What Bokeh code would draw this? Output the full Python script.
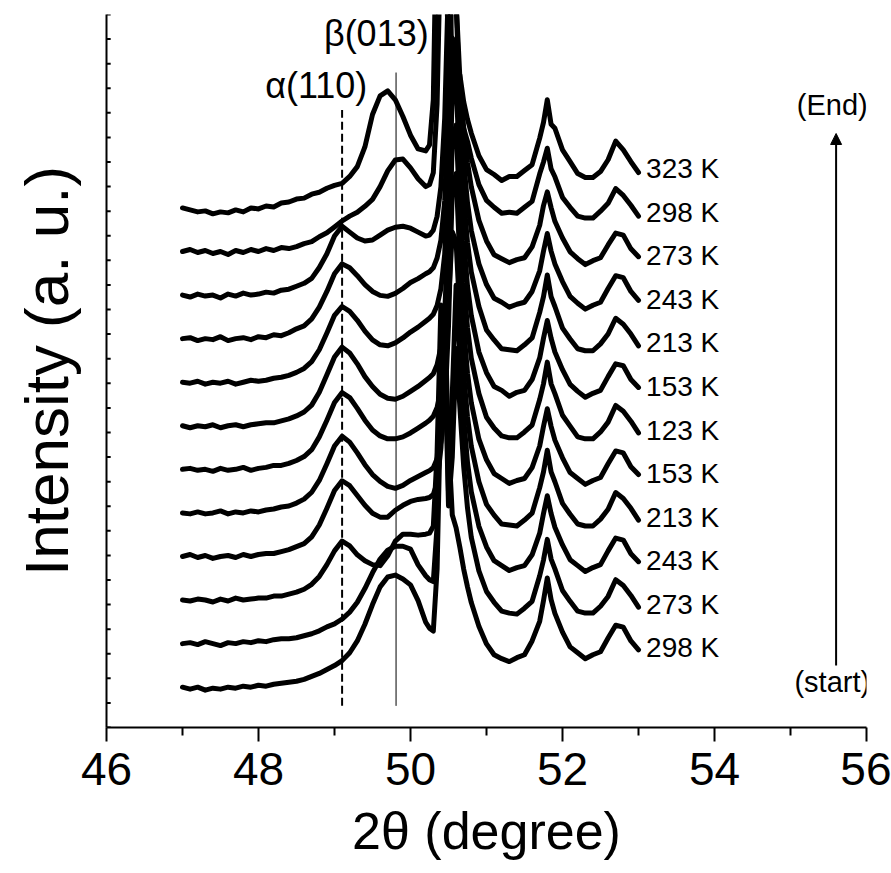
from bokeh.plotting import figure
from bokeh.models import Range1d, FixedTicker, Arrow, NormalHead, Label
from bokeh.embed import file_html
from bokeh.resources import INLINE
from bokeh.core.properties import value

# 2-theta sampling positions (degree), shared by every scan
two_theta = [47.0, 47.1, 47.2, 47.3, 47.4, 47.5, 47.6, 47.7, 47.8, 47.9,
             48.0, 48.1, 48.2, 48.3, 48.4, 48.5, 48.6, 48.7, 48.8, 48.9,
             49.0, 49.1, 49.2, 49.3, 49.4, 49.5, 49.6, 49.7, 49.8, 49.9,
             50.0, 50.1, 50.2, 50.25, 50.3, 50.35, 50.4, 50.45, 50.5, 50.55,
             50.6, 50.65, 50.7, 50.75, 50.8, 50.9, 51.0, 51.1, 51.2, 51.3,
             51.4, 51.5, 51.6, 51.7, 51.75, 51.8, 51.85, 51.9, 52.0, 52.1,
             52.2, 52.3, 52.4, 52.5, 52.6, 52.7, 52.8, 52.9, 53.0]

# Intensities (a.u., background-referenced) in measurement order:
# start at 298 K, cool down to 123 K, heat up to 323 K
s01_298K = [0, -2, 0, -3, -1, -2, 0, -1, 1, 0,
            2, 1, 3, 4, 5, 6, 8, 11, 14, 18,
            22, 27, 35, 47, 64, 84, 102, 112, 114, 110,
            104, 88, 66, 60, 57, 120, 300, 380, 250, 175,
            162, 142, 120, 102, 86, 62, 44, 33, 29, 26,
            30, 33, 47, 67, 88, 111, 89, 75, 56, 41,
            35, 29, 33, 36, 50, 63, 61, 47, 38]
s02_273K = [0, 1, -1, 2, 0, -2, 1, 0, 2, 1,
            3, 2, 4, 5, 5, 6, 8, 10, 13, 17,
            20, 25, 32, 42, 56, 72, 86, 95, 99, 99,
            96, 80, 69, 65, 63, 120, 280, 300, 140, 190,
            300, 240, 180, 138, 108, 74, 53, 42, 33, 31,
            30, 36, 43, 69, 85, 106, 86, 76, 54, 43,
            33, 31, 31, 38, 48, 65, 59, 49, 37]
s03_243K = [0, -1, 1, 0, -2, 1, -1, 2, 0, 1,
            2, 2, 4, 4, 6, 8, 11, 16, 24, 36,
            50, 60, 55, 46, 40, 36, 35, 45, 60, 67,
            67, 66, 67, 68, 75, 150, 300, 280, 110, 210,
            320, 250, 185, 140, 110, 75, 54, 40, 35, 30,
            33, 35, 46, 68, 88, 106, 88, 74, 56, 41,
            35, 29, 33, 36, 50, 63, 61, 47, 39]
s04_213K = [0, 2, -1, 1, -2, 0, 1, -1, 2, 0,
            2, 3, 3, 5, 7, 10, 13, 20, 32, 49,
            67, 77, 72, 62, 52, 44, 40, 40, 47, 52,
            56, 58, 59, 60, 63, 75, 110, 180, 260, 330,
            320, 245, 185, 142, 112, 76, 53, 42, 33, 32,
            31, 37, 44, 70, 86, 108, 86, 76, 54, 43,
            33, 31, 31, 38, 48, 65, 59, 49, 37]
s05_153K = [0, -1, 1, -1, 0, 2, -1, 1, 0, 2,
            1, 3, 4, 6, 7, 10, 14, 21, 33, 50,
            68, 78, 72, 61, 49, 39, 32, 27, 25, 28,
            33, 37, 41, 43, 46, 55, 72, 105, 190, 330,
            345, 255, 188, 142, 112, 75, 54, 40, 35, 30,
            33, 35, 46, 68, 88, 106, 88, 74, 56, 41,
            35, 29, 33, 36, 50, 63, 61, 47, 39]
s06_123K = [0, 1, -1, 0, -2, 1, -1, 0, 2, -1,
            1, 2, 4, 4, 6, 9, 13, 20, 33, 50,
            68, 78, 73, 62, 50, 40, 34, 31, 31, 33,
            37, 42, 47, 50, 54, 63, 80, 112, 195, 335,
            350, 258, 190, 144, 113, 77, 53, 42, 34, 32,
            32, 38, 45, 71, 87, 109, 87, 77, 55, 44,
            33, 31, 31, 38, 48, 65, 59, 49, 37]
s07_153K = [0, -2, 0, -1, 1, -2, 0, 1, -1, 1,
            2, 3, 3, 5, 7, 10, 14, 21, 34, 52,
            70, 80, 74, 63, 50, 40, 32, 28, 27, 30,
            35, 40, 46, 49, 53, 62, 80, 115, 200, 340,
            350, 255, 188, 142, 112, 75, 54, 40, 36, 30,
            34, 36, 47, 69, 89, 107, 89, 75, 57, 42,
            35, 29, 33, 36, 50, 63, 61, 47, 39]
s08_213K = [0, -1, 1, -2, 0, -1, 1, -2, 0, 2,
            1, 2, 4, 5, 7, 10, 14, 21, 33, 50,
            68, 77, 72, 63, 52, 43, 38, 37, 40, 45,
            51, 56, 62, 65, 69, 78, 95, 130, 220, 350,
            340, 248, 186, 142, 112, 77, 53, 43, 34, 33,
            32, 38, 45, 71, 87, 109, 87, 77, 55, 44,
            34, 32, 32, 39, 49, 65, 59, 49, 37]
s09_243K = [0, 1, -2, 0, -1, 2, -2, 0, 1, -1,
            2, 1, 4, 3, 6, 10, 13, 20, 32, 48,
            66, 76, 72, 64, 55, 48, 44, 43, 46, 51,
            57, 61, 66, 68, 72, 82, 100, 140, 240, 370,
            340, 240, 180, 138, 110, 76, 55, 41, 37, 32,
            35, 37, 48, 69, 89, 107, 89, 76, 58, 43,
            36, 30, 34, 37, 51, 64, 62, 48, 39]
s10_273K = [0, -2, 1, -1, 0, -3, 1, -1, 2, 0,
            1, 3, 2, 5, 6, 9, 12, 17, 28, 42,
            60, 70, 64, 58, 55, 56, 61, 66, 69, 70,
            68, 64, 60, 61, 66, 80, 110, 180, 320, 380,
            300, 220, 170, 135, 110, 76, 55, 41, 37, 33,
            36, 38, 49, 71, 91, 105, 89, 75, 58, 44,
            37, 31, 35, 38, 51, 63, 61, 47, 39]
s11_298K = [0, 2, -1, 1, -2, 0, -3, 1, -1, 2,
            0, 3, 1, 4, 3, 5, 8, 10, 15, 19,
            25, 31, 36, 40, 46, 53, 66, 82, 93, 94,
            85, 74, 66, 68, 80, 150, 330, 420, 300, 190,
            155, 135, 125, 112, 95, 68, 52, 45, 39, 40,
            39, 45, 51, 79, 91, 105, 84, 76, 55, 45,
            36, 34, 34, 41, 49, 64, 57, 47, 36]
s12_323K = [0, -2, -4, -3, -6, -4, -5, -2, -4, 0,
            -1, 2, 1, 5, 6, 9, 10, 14, 16, 20,
            23, 25, 32, 42, 62, 95, 114, 119, 110, 93,
            74, 60, 58, 64, 110, 330, 420, 260, 170, 150,
            145, 135, 108, 90, 76, 53, 39, 34, 28, 32,
            32, 38, 44, 71, 87, 110, 85, 81, 59, 47,
            35, 31, 31, 37, 49, 68, 59, 47, 36]

scans = [s01_298K, s02_273K, s03_243K, s04_213K, s05_153K, s06_123K,
         s07_153K, s08_213K, s09_243K, s10_273K, s11_298K, s12_323K]
temperatures = ["298 K", "273 K", "243 K", "213 K", "153 K", "123 K",
                "153 K", "213 K", "243 K", "273 K", "298 K", "323 K"]

# reflection positions (degree)
alpha_110 = 49.1
beta_013 = 49.81

# vertical stacking of the scans
BASE = 41.0
STEP = 44.3

FONT = "Liberation Sans"

p = figure(width=891, height=873, x_range=Range1d(46, 56), y_range=Range1d(0, 725),
           output_backend="svg", toolbar_location=None,
           min_border_left=106, min_border_right=25, min_border_top=14, min_border_bottom=146)
p.outline_line_color = None
p.grid.visible = False
p.background_fill_color = "white"
p.border_fill_color = "white"

# x axis
xa = p.xaxis[0]
xa.ticker = FixedTicker(ticks=[46, 48, 50, 52, 54, 56], minor_ticks=[47, 49, 51, 53, 55])
xa.axis_line_width = 2
xa.axis_line_color = "black"
xa.major_tick_line_width = 2
xa.minor_tick_line_width = 2
xa.major_tick_line_color = "black"
xa.minor_tick_line_color = "black"
xa.major_tick_out = 14
xa.major_tick_in = 0
xa.minor_tick_out = 8
xa.minor_tick_in = 0
xa.major_label_text_font = FONT
xa.major_label_text_font_size = "46px"
xa.major_label_text_color = "black"
xa.major_label_standoff = 11
xa.axis_label = "2θ (degree)"
xa.axis_label_text_font = FONT
xa.axis_label_text_font_size = "52px"
xa.axis_label_text_font_style = "normal"
xa.axis_label_text_color = "black"
xa.axis_label_standoff = 14

# y axis: line only, the short inside ticks are drawn below
ya = p.yaxis[0]
ya.ticker = FixedTicker(ticks=[], minor_ticks=[])
ya.axis_line_width = 2
ya.axis_line_color = "black"
ya.major_tick_in = 0
ya.major_tick_out = 0
ya.minor_tick_in = 0
ya.minor_tick_out = 0
ya.axis_label = "Intensity (a. u.)"
ya.axis_label_text_font = FONT
ya.axis_label_text_font_size = "62px"
ya.axis_label_text_font_style = "normal"
ya.axis_label_text_color = "black"
ya.axis_label_standoff = 26

y_ticks = list(range(0, 726, 25))
p.segment(x0=[46.0] * len(y_ticks), y0=y_ticks, x1=[46.055] * len(y_ticks), y1=y_ticks,
          line_color="black", line_width=2)

# reference lines for the two reflections
p.segment(x0=[alpha_110], y0=[22], x1=[alpha_110], y1=[628],
          line_color="black", line_width=2, line_dash="8 4")
p.segment(x0=[beta_013], y0=[22], x1=[beta_013], y1=[666],
          line_color="black", line_width=1)

# stacked scans
offsets = []
for i, scan in enumerate(scans):
    off = BASE + i * STEP
    offsets.append(off)
    p.line(two_theta, [v + off for v in scan], line_color="black", line_width=5,
           line_join="round", line_cap="round")

# temperature labels at the right end of each scan
p.text(x=[53.1] * len(scans), y=[o + 40 for o in offsets], text=temperatures,
       text_font=value(FONT), text_font_size="28px", text_align="left",
       text_baseline="middle", text_color="black")

for txt, x, y in [("α(110)", alpha_110 - 0.34, 653), ("β(013)", beta_013 - 0.26, 706)]:
    p.add_layout(Label(x=x, y=y, text=txt, text_font=FONT, text_font_size="36px",
                       text_align="center", text_baseline="middle", text_color="black"))

# measurement sequence arrow
p.add_layout(Arrow(end=NormalHead(size=11, fill_color="black", line_color="black"),
                   x_start=55.6, y_start=63, x_end=55.6, y_end=604,
                   line_color="black", line_width=2))
p.add_layout(Label(x=55.55, y=633, text="(End)", text_font=FONT, text_font_size="29px",
                   text_align="center", text_baseline="middle", text_color="black"))
p.add_layout(Label(x=55.55, y=46, text="(start)", text_font=FONT, text_font_size="29px",
                   text_align="center", text_baseline="middle", text_color="black"))

open("out.html", "w").write(file_html(p, INLINE))
